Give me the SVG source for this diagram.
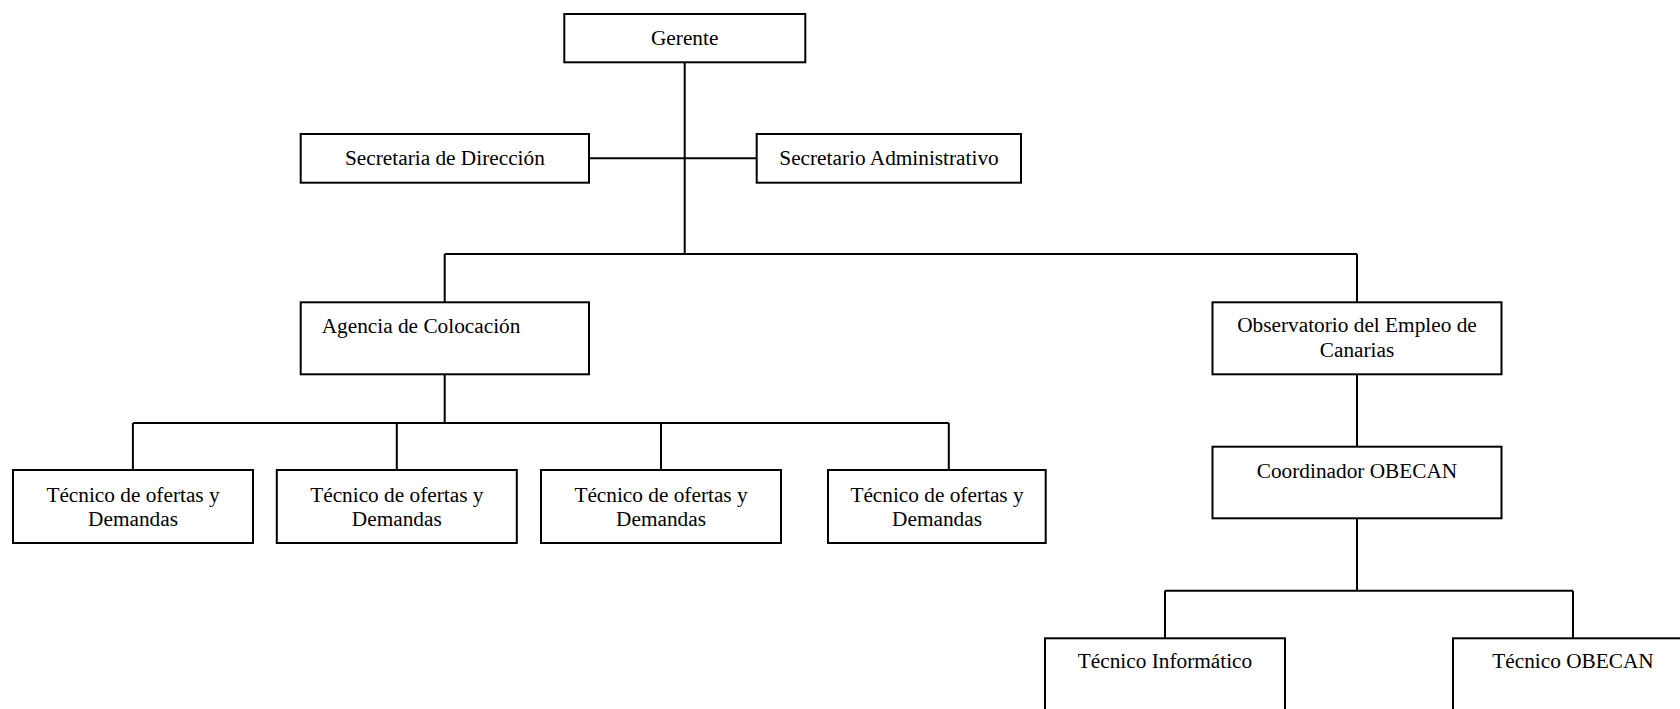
<svg xmlns="http://www.w3.org/2000/svg" width="1680" height="709" viewBox="0 0 1680 709">
<style>
.box{fill:#fff;stroke:#000;stroke-width:2}
.ln{fill:none;stroke:#000;stroke-width:2}
text{font-family:"Liberation Serif","Times New Roman",serif;font-size:21.3px;fill:#000}
.c{text-anchor:middle}
</style>
<rect width="1680" height="709" fill="#fff"/>
<g id="connectors">
<path class="ln" d="M684.7 62.3V254"/>
<path class="ln" d="M589 158.3H756.7"/>
<path class="ln" d="M444.7 254H1357"/>
<path class="ln" d="M444.7 254V302.3M1357 254V302.3"/>
<path class="ln" d="M444.7 374.3V423"/>
<path class="ln" d="M132.9 423H948.8"/>
<path class="ln" d="M132.9 423V470M396.8 423V470M661 423V470M948.8 423V470"/>
<path class="ln" d="M1357 374.3V446.7"/>
<path class="ln" d="M1357 518.3V590.7"/>
<path class="ln" d="M1165 590.7H1573"/>
<path class="ln" d="M1165 590.7V638.3M1573 590.7V638.3"/>
</g>
<g id="gerente"><rect class="box" x="564.3" y="14" width="241" height="48.3"/><text class="c" x="684.7" y="45">Gerente</text></g>
<g id="secretaria"><rect class="box" x="300.7" y="134" width="288.3" height="48.7"/><text class="c" x="444.9" y="165">Secretaria de Dirección</text></g>
<g id="secretario"><rect class="box" x="756.7" y="134" width="264.3" height="48.7"/><text class="c" x="889" y="165">Secretario Administrativo</text></g>
<g id="agencia"><rect class="box" x="300.7" y="302.3" width="288.3" height="72"/><text x="321.7" y="333.3">Agencia de Colocación</text></g>
<g id="observatorio"><rect class="box" x="1212.5" y="302.3" width="289" height="72"/><text class="c" x="1357" y="332">Observatorio del Empleo de</text><text class="c" x="1357" y="357">Canarias</text></g>
<g id="tecnico1"><rect class="box" x="13" y="470" width="240" height="73"/><text class="c" x="133" y="502">Técnico de ofertas y</text><text class="c" x="133" y="526">Demandas</text></g>
<g id="tecnico2"><rect class="box" x="276.8" y="470" width="240" height="73"/><text class="c" x="396.8" y="502">Técnico de ofertas y</text><text class="c" x="396.8" y="526">Demandas</text></g>
<g id="tecnico3"><rect class="box" x="541" y="470" width="240" height="73"/><text class="c" x="661" y="502">Técnico de ofertas y</text><text class="c" x="661" y="526">Demandas</text></g>
<g id="tecnico4"><rect class="box" x="828" y="470" width="217.7" height="73"/><text class="c" x="937" y="502">Técnico de ofertas y</text><text class="c" x="937" y="526">Demandas</text></g>
<g id="coordinador"><rect class="box" x="1212.5" y="446.7" width="289" height="71.6"/><text class="c" x="1357" y="477.5">Coordinador OBECAN</text></g>
<g id="informatico"><rect class="box" x="1045" y="638.3" width="240" height="90"/><text class="c" x="1165" y="668">Técnico Informático</text></g>
<g id="obecan"><rect class="box" x="1453" y="638.3" width="240" height="90"/><text class="c" x="1573" y="668">Técnico OBECAN</text></g>
</svg>
